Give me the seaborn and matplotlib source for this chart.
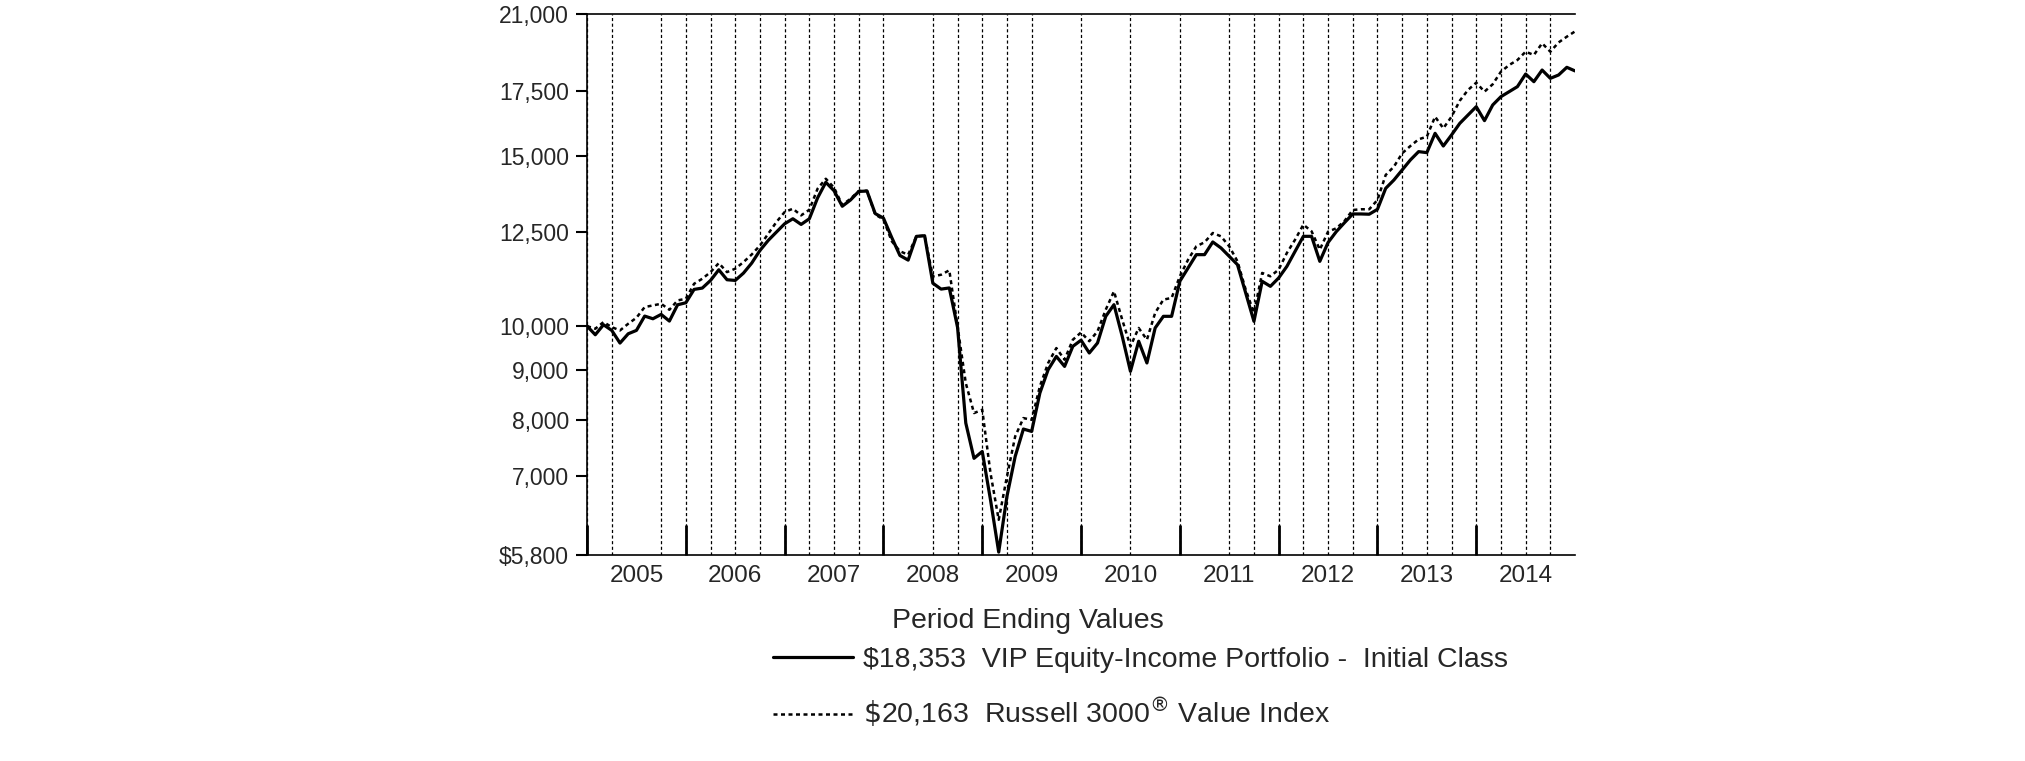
import numpy as np
import pandas as pd
import seaborn as sns
import matplotlib.pyplot as plt
from matplotlib.ticker import FixedLocator, NullFormatter

sns.set_style("ticks")
plt.rcParams['font.family'] = ['Liberation Sans', 'DejaVu Sans']

# month-end values, Dec 2004 .. Dec 2014 ($10,000 invested)
dates = pd.date_range("2004-12-31", periods=121, freq="ME")

fund_values = [
    10000, 9796, 10032, 9898, 9604, 9819, 9898, 10241, 10176, 10282, 10120, 10520,
    10571, 10912, 10947, 11148, 11434, 11166, 11148, 11344, 11617, 11972, 12260, 12507,
    12757, 12910, 12737, 12910, 13566, 14080, 13800, 13300, 13500, 13777, 13790, 13070,
    12930, 12350, 11830, 11700, 12380, 12400, 11075, 10920, 10950, 9970, 7940, 7300,
    7420, 6615, 5840, 6668, 7333, 7827, 7783, 8527, 9013, 9304, 9085, 9529,
    9670, 9380, 9606, 10235, 10523, 9760, 8980, 9646, 9160, 9955, 10235, 10235,
    11125, 11483, 11853, 11853, 12216, 12043, 11806, 11574, 10819, 10114, 11125, 10992,
    11213, 11527, 11948, 12381, 12381, 11666, 12200, 12520, 12791, 13058, 13058, 13050,
    13203, 13879, 14157, 14499, 14849, 15146, 15110, 15821, 15350, 15759, 16200, 16525,
    16856, 16305, 16924, 17263, 17469, 17679, 18218, 17889, 18392, 18032, 18176, 18511,
    18353,
]
index_values = [
    10000, 9937, 10096, 9976, 9897, 10056, 10200, 10463, 10504, 10546, 10396, 10630,
    10672, 11059, 11193, 11371, 11617, 11371, 11463, 11645, 11858, 12114, 12455, 12810,
    13118, 13222, 13014, 13190, 13867, 14200, 13900, 13340, 13540, 13790, 13800, 13040,
    12890, 12240, 11950, 11850, 12380, 12400, 11254, 11300, 11420, 9992, 8732, 8130,
    8195, 7049, 6307, 6993, 7691, 8034, 8000, 8664, 9157, 9490, 9231, 9680,
    9850, 9646, 9876, 10398, 10862, 10154, 9530, 9955, 9681, 10318, 10650, 10693,
    11258, 11712, 12090, 12207, 12480, 12381, 12090, 11666, 10905, 10318, 11348, 11258,
    11438, 11901, 12284, 12730, 12530, 11995, 12520, 12620, 12843, 13182, 13205, 13205,
    13500, 14327, 14614, 15085, 15350, 15596, 15695, 16460, 16010, 16460, 17098, 17540,
    17847, 17469, 17780, 18320, 18613, 18835, 19213, 19062, 19600, 19213, 19640, 19911,
    20163,
]

fund_label = "\\$18,353  VIP Equity-Income Portfolio -  Initial Class"
index_label = "$\\$$20,163  Russell 3000$^{\\circledR}$ Value Index"

y_ticks = [5800, 7000, 8000, 9000, 10000, 12500, 15000, 17500, 21000]
y_tick_labels = ["\\$5,800", "7,000", "8,000", "9,000", "10,000", "12,500", "15,000", "17,500", "21,000"]
y_grid = [8000, 9000, 10000, 15000, 17500]

years = list(range(2005, 2015))
year_labels = [str(y) for y in years]
x_grid = [2005.25, 2005.75, 2006.25, 2006.5, 2006.75, 2007.25, 2007.5, 2007.75,
          2008.5, 2008.75, 2009.25, 2009.5, 2010.5, 2011.5, 2011.75,
          2012.25, 2012.5, 2012.75, 2013.25, 2013.5, 2013.75, 2014.25, 2014.5, 2014.75]

# decimal year of each month end (Dec 2004 -> 2005.0)
period = np.asarray(dates.year + dates.month / 12, dtype=float)

fig = plt.figure(figsize=(20.25, 7.61), dpi=100)
ax = fig.add_axes([0.2899, 0.2707, 0.4879, 0.7105])

sns.lineplot(x=period, y=fund_values, color="black", lw=2.3, label=fund_label, ax=ax)
sns.lineplot(x=period, y=index_values, color="black", lw=1.8, linestyle=(0, (1.6, 1.4)),
             label=index_label, ax=ax)

ax.set_yscale("log")
ax.set_ylim(5800, 21000)
ax.set_xlim(2005, 2015)

ax.set_yticks(y_ticks, y_tick_labels)
ax.yaxis.set_minor_locator(FixedLocator(y_grid))
ax.yaxis.set_minor_formatter(NullFormatter())
ax.tick_params(axis="y", which="major", direction="out", length=8, width=1.5,
               pad=5, labelsize=16.5, color="black")
ax.tick_params(axis="y", which="minor", length=0)

ax.set_xticks(years, [""] * len(years))
ax.xaxis.set_minor_locator(FixedLocator(x_grid))
ax.tick_params(axis="x", which="major", direction="in", length=21.6, width=2, color="black")
ax.tick_params(axis="x", which="minor", length=0)

ax.grid(False)
ax.grid(which="both", axis="x", color="black", lw=0.9, linestyle=(0, (2.5, 2)))
ax.grid(which="minor", axis="y", color="black", lw=0.9, linestyle=(0, (2.5, 2)))

for side in ["left", "bottom", "top"]:
    ax.spines[side].set_linewidth(1.2)
    ax.spines[side].set_color("black")
ax.spines["right"].set_visible(False)
ax.set_xlabel("")
ax.set_ylabel("")

sec = ax.secondary_xaxis("bottom")
sec.set_xticks([y + 0.5 for y in years], year_labels)
sec.tick_params(length=0, pad=7, labelsize=17.5)
sec.spines["bottom"].set_visible(False)

handles, labels = ax.get_legend_handles_labels()
ax.legend(handles, labels, loc="upper left", bbox_to_anchor=(773 / 2025, 1 - 647 / 761),
          bbox_transform=fig.transFigure, frameon=False, fontsize=20.5, handlelength=2.8,
          handletextpad=0.35, labelspacing=0.8, borderpad=0, borderaxespad=0)
fig.text(892 / 2025, 1 - 628 / 761, "Period Ending Values", fontsize=20.5, va="baseline")

fig.savefig("out.png", dpi=100)
